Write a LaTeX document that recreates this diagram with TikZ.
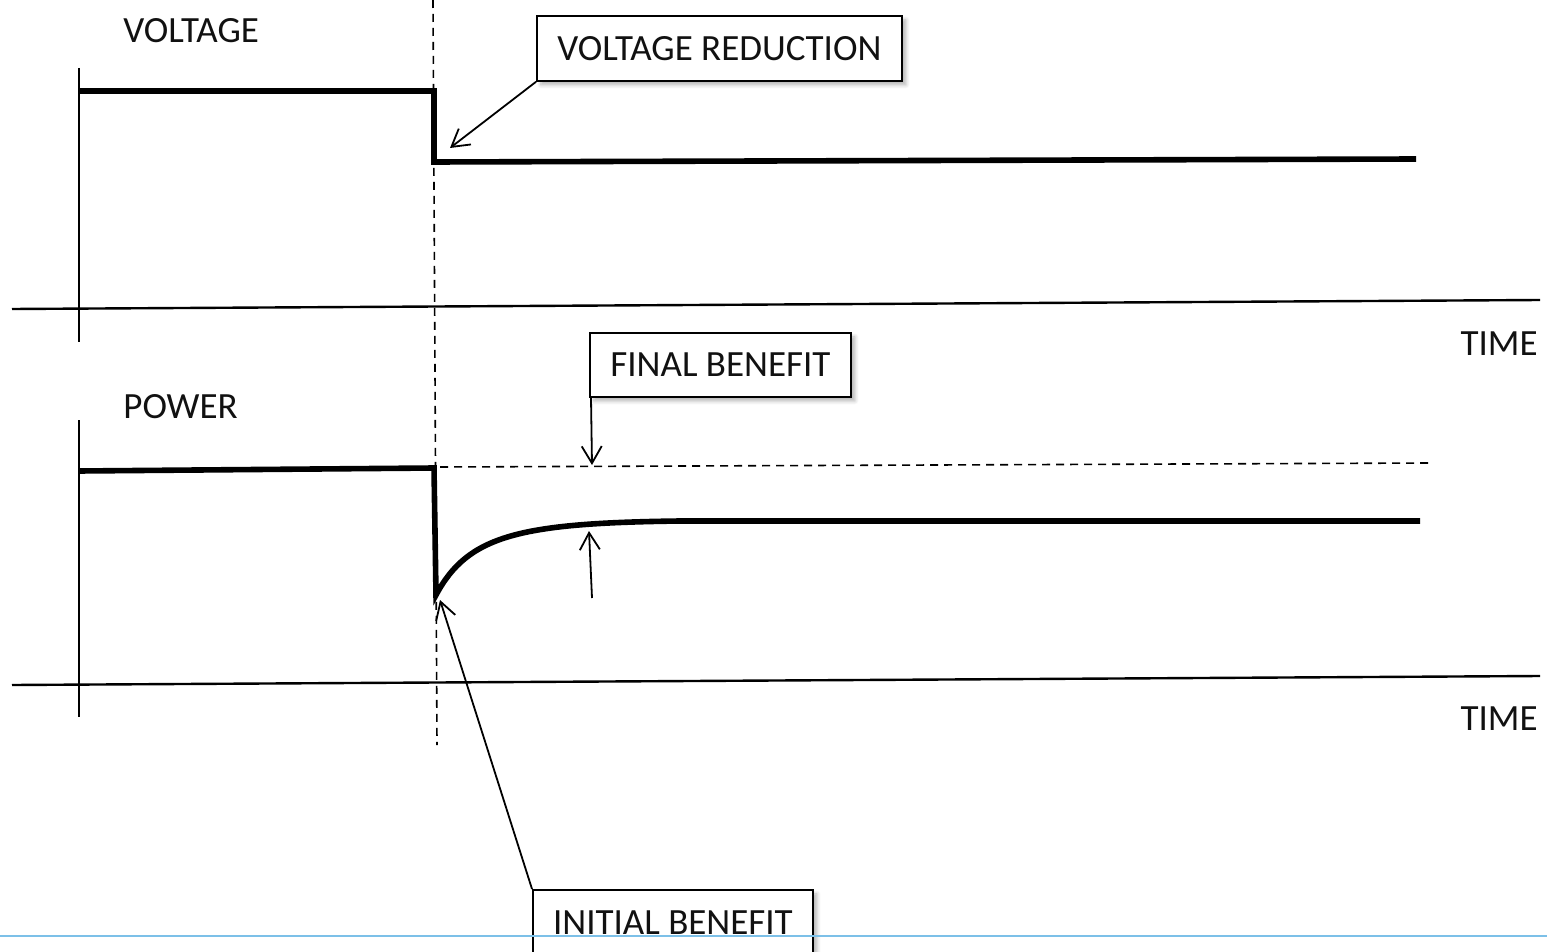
\documentclass[tikz,border=0pt]{standalone}
\usepackage{fontspec}
\setmainfont{Carlito}
\usetikzlibrary{arrows.meta,shadows.blur}
\definecolor{rule}{HTML}{7CC0E8}
\definecolor{ink}{HTML}{111111}
\tikzset{
  axis/.style={line width=1.2pt},
  sig/.style={line width=2.8pt},
  guide/.style={line width=0.8pt, dash pattern=on 4pt off 3pt},
  ptr/.style={line width=0.9pt, -{Straight Barb[length=8.5pt,width=10pt]}},
  lbl/.style={font=\fontsize{18.5}{22}\selectfont, text=ink, inner sep=0pt},
  callout/.style={draw, line width=0.9pt, fill=white, font=\fontsize{18.5}{22}\selectfont, text=ink,
    inner sep=0pt, blur shadow={shadow xshift=2pt, shadow yshift=-2pt, shadow blur steps=6, shadow opacity=30}},
}
\begin{document}
\begin{tikzpicture}[x=0.5pt,y=-0.5pt]
\useasboundingbox (0,0) rectangle (1547,952);
% top axes
\draw[axis] (79,68) -- (79,342);
\draw[axis] (12,309) -- (1540,300);
\node[lbl, anchor=west] (vlab) at (123,31) {VOLTAGE};
\node[lbl, anchor=east] (t1) at (1538,344) {TIME};
% bottom axes
\draw[axis] (79,420) -- (79,717);
\draw[axis] (12,685) -- (1540,676);
\node[lbl, anchor=west] (plab) at (123,407) {POWER};
\node[lbl, anchor=east] (t2) at (1538,719) {TIME};
% dashed vertical guide
\coordinate (gtop) at (433,0);
\coordinate (gbot) at (437,745);
\draw[guide] (gtop) -- (gbot);
% voltage signal
\draw[sig, line join=miter] (79,91) -- (434,91) -- (434,162) -- (1416,159);
% power signal
\draw[sig, line join=miter] (79,471) -- (434,468) -- (436,595)
  .. controls (468,535) and (520,523) .. (680,521) -- (1420,521);
% dashed final level
\coordinate (fl0) at (440,467);
\coordinate (fl1) at (1430,463);
\draw[guide] (fl0) -- (fl1);
% callouts
\node[callout, minimum width=182.5pt, minimum height=32.5pt, anchor=north west] (vr) at (536,15) {VOLTAGE REDUCTION};
\coordinate (vrtip) at (450,148);
\draw[ptr] (vr.south west) -- (vrtip);
\node[callout, minimum width=130.5pt, minimum height=32pt, anchor=north west] (fb) at (589,332) {FINAL BENEFIT};
\coordinate (fbtip) at (592,465);
\draw[ptr] ([xshift=1pt]fb.south west) -- (fbtip);
\coordinate (ibtail) at (592,598);
\coordinate (ibtip) at (589,531);
\draw[ptr] (ibtail) -- (ibtip);
\node[callout, minimum width=140pt, minimum height=33pt, anchor=north west] (ib) at (532,889) {INITIAL BENEFIT};
\coordinate (iptip) at (440,600);
\draw[ptr] (ib.north west) -- (iptip);
% blue bottom rule (drawn over the box)
\draw[rule, line width=1.2pt] (0,936) -- (1547,936);
\end{tikzpicture}
\end{document}
